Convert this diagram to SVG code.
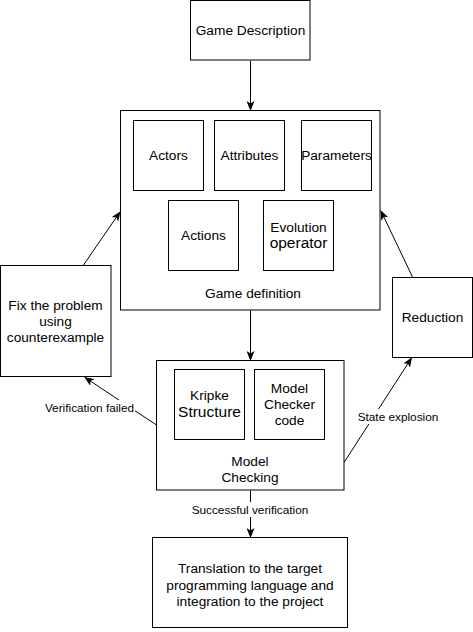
<svg xmlns="http://www.w3.org/2000/svg" width="473" height="632" viewBox="0 0 473 632">
<style>
rect.n{fill:#fff;stroke:#000;stroke-width:1}
text{font-family:"Liberation Sans",Arial,Helvetica,sans-serif;font-size:13.7px;fill:#000;text-anchor:middle}
text.big{font-size:15.5px}
text.lbl{font-size:11.8px}
.c{fill:none;stroke:#000;stroke-width:1}
.lb{fill:#fff;stroke:none}
</style>
<defs>
<marker id="ah" viewBox="0 0 10 8" refX="9" refY="4" markerWidth="10" markerHeight="8" markerUnits="userSpaceOnUse" orient="auto">
<path d="M0,0 L10,4 L0,8 L2.5,4 Z" fill="#000"/>
</marker>
</defs>
<rect width="473" height="632" fill="#fff"/>
<g id="connectors">
<path class="c" d="M250.5,60.5 L250.5,110" marker-end="url(#ah)"/>
<path class="c" d="M250.5,310.5 L250.5,360" marker-end="url(#ah)"/>
<path class="c" d="M250.5,490.5 L250.5,537" marker-end="url(#ah)"/>
<path class="c" d="M83.5,265 L120,212" marker-end="url(#ah)"/>
<path class="c" d="M412.5,277 L381,211" marker-end="url(#ah)"/>
<path class="c" d="M156.5,425 L85,377.5" marker-end="url(#ah)"/>
<path class="c" d="M344,462.5 L411.5,358" marker-end="url(#ah)"/>
<rect class="lb" x="43" y="400" width="92" height="15"/>
<text class="lbl" x="89.5" y="412">Verification failed</text>
<rect class="lb" x="356" y="409" width="84" height="15"/>
<text class="lbl" x="398" y="421">State explosion</text>
<rect class="lb" x="189" y="502" width="122" height="15"/>
<text class="lbl" x="250" y="514.2">Successful verification</text>
</g>
<g id="game-description">
<rect class="n" x="190.5" y="0.5" width="119.5" height="59.5"/>
<text x="250.5" y="35">Game Description</text>
</g>
<g id="game-definition">
<rect class="n" x="120.5" y="110.5" width="259.5" height="199.5"/>
<text x="253" y="297.5">Game definition</text>
</g>
<g id="actors">
<rect class="n" x="133.5" y="120.5" width="70" height="70"/>
<text x="168.5" y="160">Actors</text>
</g>
<g id="attributes">
<rect class="n" x="214.5" y="120.5" width="70" height="70"/>
<text x="249.5" y="160">Attributes</text>
</g>
<g id="parameters">
<rect class="n" x="301.5" y="120.5" width="70" height="70"/>
<text x="336.5" y="160">Parameters</text>
</g>
<g id="actions">
<rect class="n" x="168.5" y="200.5" width="70" height="70"/>
<text x="203.5" y="240">Actions</text>
</g>
<g id="evolution-operator">
<rect class="n" x="263.5" y="200.5" width="70" height="70"/>
<text x="298.5" y="231.5">Evolution</text>
<text class="big" x="298.5" y="248">operator</text>
</g>
<g id="fix-problem">
<rect class="n" x="0.5" y="265.5" width="110.5" height="111"/>
<text x="55.5" y="309.5">Fix the problem</text>
<text x="55.5" y="326">using</text>
<text x="55.5" y="342">counterexample</text>
</g>
<g id="reduction">
<rect class="n" x="392.5" y="277.5" width="80" height="80"/>
<text x="432.5" y="322">Reduction</text>
</g>
<g id="model-checking">
<rect class="n" x="156.5" y="360.5" width="187.5" height="129.5"/>
<text x="250" y="465.5">Model</text>
<text x="250" y="482">Checking</text>
</g>
<g id="kripke-structure">
<rect class="n" x="174.5" y="369.5" width="70" height="70"/>
<text x="209.5" y="399.5">Kripke</text>
<text class="big" x="209.5" y="417">Structure</text>
</g>
<g id="model-checker-code">
<rect class="n" x="254.5" y="369.5" width="70" height="70"/>
<text x="289.5" y="392.5">Model</text>
<text x="289.5" y="408.5">Checker</text>
<text x="289.5" y="424.5">code</text>
</g>
<g id="translation">
<rect class="n" x="152.5" y="537.5" width="195" height="90"/>
<text x="250" y="573">Translation to the target</text>
<text x="250" y="589.5">programming language and</text>
<text x="250" y="605.5">integration to the project</text>
</g>
</svg>
